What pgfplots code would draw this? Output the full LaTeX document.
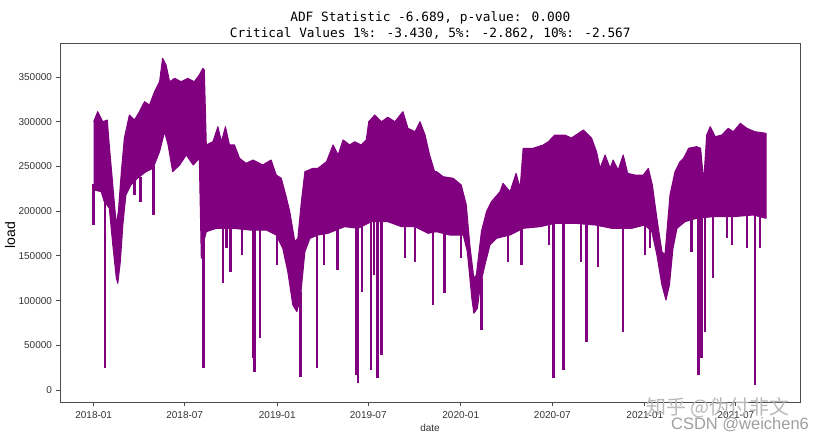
\documentclass[border=0pt]{standalone}
\usepackage{fontspec}
\usepackage{pgfplots}
\pgfplotsset{compat=1.18}
\newfontfamily\monof{DejaVu Sans Mono}
\newfontfamily\sansf{Liberation Sans}
\newfontfamily\cjk{Noto Sans CJK SC}
\definecolor{mplpurple}{HTML}{800080}
\begin{document}
\begin{tikzpicture}
\begin{axis}[
  at={(0pt,0pt)}, anchor=south west,
  width=740.7pt, height=359.7pt, scale only axis,
  xmin=-67, xmax=1406, ymin=-14200, ymax=388000,
  axis line style={black!70, line width=0.8pt},
  tick pos=left, tick align=outside,
  major tick length=3.5pt,
  every tick/.style={black!70, line width=0.8pt},
  xtick={0,181,365,546,730,912,1096,1277},
  xticklabels={2018-01,2018-07,2019-01,2019-07,2020-01,2020-07,2021-01,2021-07},
  ytick={0,50000,100000,150000,200000,250000,300000,350000},
  scaled y ticks=false,
  /pgf/number format/assume math mode=true,
  yticklabel style={/pgf/number format/fixed, /pgf/number format/1000 sep={}, font=\sansf\fontsize{10}{12}\selectfont, text=black!80, xshift=-1pt},
  xticklabel style={font=\sansf\fontsize{10}{12}\selectfont, text=black!80, yshift=-2pt},
  clip=true,
]
% band: upper envelope left to right, then lower envelope right to left
\addplot[fill=mplpurple, draw=mplpurple, line width=1pt, line join=round] coordinates {
(0,300000) (8,311200) (18,300000) (27,301900) (31,274000) (38,229200) (45,184500) (49,199400)
(55,244100) (61,281800) (71,307500) (81,301900) (91,311200) (101,322400) (111,318700) (121,333600)
(131,344700) (137,370900) (144,363400) (151,344700) (161,348500) (174,344700) (187,348500) (200,344700)
(210,352200) (217,359700) (220,357800) (224,274000) (237,277600) (247,294400) (254,277600) (262,294400)
(270,274000) (280,274000) (290,259100) (303,253500) (317,257200) (336,251600) (353,257200) (363,240400)
(373,236700) (382,218000) (390,199400) (400,165800) (406,169600) (413,210600) (420,244100) (436,247900)
(446,247900) (463,255300) (476,274000) (486,262800) (496,279600) (509,274000) (519,277600) (532,274000)
(542,279600) (547,300000) (559,307500) (572,300000) (585,305000) (599,300000) (615,311200) (625,292600)
(639,288800) (649,300000) (659,285100) (668,262800) (678,244100) (682,244100) (695,238500) (715,236700)
(731,229200) (741,206900) (748,162100) (756,124900) (761,128600) (771,177000) (781,199400) (791,210600)
(808,221700) (814,231100) (828,221700) (840,242300) (848,225500) (854,270300) (874,270300) (894,274000)
(904,277600) (917,285100) (937,285100) (950,281800) (974,290700) (990,281800) (1000,266500) (1007,247900)
(1017,262800) (1027,247900) (1033,257200) (1043,246000) (1053,262800) (1062,242300) (1076,240400) (1093,240400)
(1103,247900) (1111,229200) (1120,192000) (1130,154600) (1136,151000) (1146,218000) (1156,244100) (1166,255300)
(1173,259100) (1183,270300) (1199,272100) (1207,270300) (1213,232900) (1219,285100) (1226,294400) (1236,283200)
(1249,285100) (1262,292600) (1272,288800) (1286,298200) (1299,292600) (1315,288800) (1337,287000)
(1337,192000) (1312,195700) (1272,193800) (1232,193800) (1199,192000) (1176,188200) (1160,180800) (1152,158400)
(1145,117400) (1138,100600) (1130,117400) (1120,151000) (1110,177000) (1096,184500) (1070,180800) (1030,180800)
(997,184500) (957,186400) (917,186400) (888,182600) (854,180800) (828,173300) (801,169600) (788,162100)
(778,139800) (769,117400) (763,91400) (756,85800) (752,102500) (743,154600) (735,173300) (708,173300)
(682,177000) (665,175200) (639,182600) (612,182600) (585,188200) (552,188200) (526,180800) (499,182600)
(466,175200) (446,173300) (430,169600) (420,154600) (411,102500) (404,87600) (396,95000) (386,132300)
(376,158400) (363,173300) (343,178900) (310,178900) (277,180800) (244,180800) (224,177000) (217,162100)
(214,147300) (210,259100) (198,251600) (184,262800) (171,251600) (157,244100) (148,274000) (141,288800)
(131,266500) (118,247900) (104,244100) (87,236700) (74,229200) (64,218000) (58,184500) (53,143500)
(48,119300) (45,124900) (38,162100) (31,203500) (21,210600) (15,221700) (2,223600) (0,223600)
};
% downward spikes, each from inside the band to its minimum
\addplot[draw=mplpurple, line width=2.4pt, unbounded coords=jump] coordinates {
(0,230000) (0,184500) (0,nan)
(23,215000) (23,24600) (23,nan)
(81,235000) (81,218000) (81,nan)
(93,238000) (93,210200) (93,nan)
(119,250000) (119,195700) (119,nan)
(218,200000) (218,24600) (218,nan)
(257,190000) (257,119300) (257,nan)
(264,190000) (264,158800) (264,nan)
(272,190000) (272,132300) (272,nan)
(295,190000) (295,151000) (295,nan)
(317,190000) (317,35400) (317,nan)
(320,190000) (320,20500) (320,nan)
(331,190000) (331,57800) (331,nan)
(364,180000) (364,139800) (364,nan)
(411,110000) (411,14900) (411,nan)
(444,185000) (444,24300) (444,nan)
(458,185000) (458,139800) (458,nan)
(485,185000) (485,134200) (485,nan)
(522,190000) (522,16800) (522,nan)
(526,190000) (526,8000) (526,nan)
(534,190000) (534,109900) (534,nan)
(551,190000) (551,22400) (551,nan)
(557,190000) (557,128600) (557,nan)
(564,190000) (564,13100) (564,nan)
(572,190000) (572,39100) (572,nan)
(619,185000) (619,147300) (619,nan)
(639,185000) (639,143500) (639,nan)
(675,180000) (675,95000) (675,nan)
(698,180000) (698,108100) (698,nan)
(730,180000) (730,147300) (730,nan)
(771,125000) (771,67100) (771,nan)
(824,180000) (824,143500) (824,nan)
(851,185000) (851,139800) (851,nan)
(906,190000) (906,162100) (906,nan)
(914,190000) (914,13100) (914,nan)
(934,190000) (934,22400) (934,nan)
(969,190000) (969,143500) (969,nan)
(980,190000) (980,54000) (980,nan)
(1003,190000) (1003,137900) (1003,nan)
(1053,190000) (1053,65200) (1053,nan)
(1096,190000) (1096,151000) (1096,nan)
(1106,185000) (1106,158400) (1106,nan)
(1189,198000) (1189,154600) (1189,nan)
(1203,198000) (1203,16800) (1203,nan)
(1209,198000) (1209,35400) (1209,nan)
(1216,198000) (1216,65200) (1216,nan)
(1232,198000) (1232,124900) (1232,nan)
(1259,198000) (1259,169600) (1259,nan)
(1269,198000) (1269,162100) (1269,nan)
(1299,200000) (1299,158400) (1299,nan)
(1315,200000) (1315,5600) (1315,nan)
(1325,200000) (1325,158400)
};
\end{axis}
\node[align=center, font=\monof\fontsize{12.8}{16}\selectfont] at (370.3pt,377pt) {ADF Statistic -6.689, p-value: 0.000\\Critical Values 1\%: -3.430, 5\%: -2.862, 10\%: -2.567};
\node[rotate=90, font=\sansf\fontsize{14}{16}\selectfont] at (-50pt,167.7pt) {load};
\node[font=\sansf\fontsize{10}{12}\selectfont, text=black!80] at (370pt,-25.3pt) {date};
\node[font=\cjk\fontsize{20}{22}\selectfont, text=gray!55] at (658pt,-5pt) {知乎 @伪付非文};
\node[font=\sansf\fontsize{16.5}{18}\selectfont, text=gray!75] at (680pt,-22.3pt) {CSDN @weichen6};
\pgfresetboundingbox
\path[use as bounding box] (-60pt,-37.3pt) rectangle (770pt,402.7pt);
\end{tikzpicture}
\end{document}
